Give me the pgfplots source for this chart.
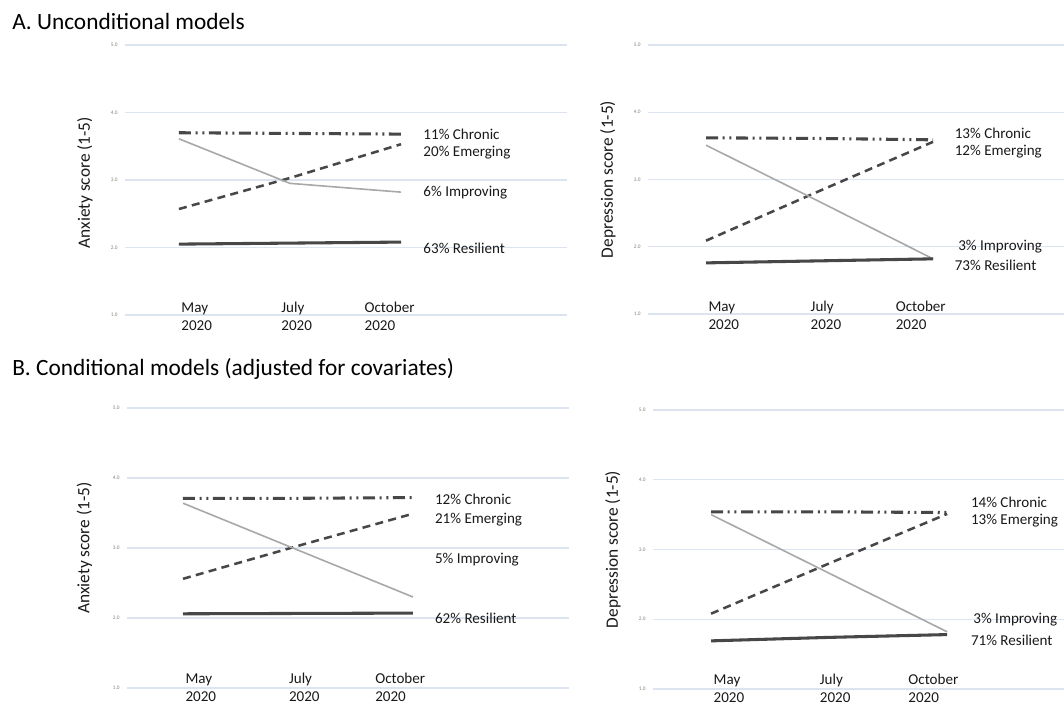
\documentclass[border=0pt]{standalone}
\usepackage{pgfplots}
\pgfplotsset{compat=1.18}
\usepackage{fontspec}
\setmainfont{Carlito}

\definecolor{gridblue}{HTML}{DCE3F1}
\definecolor{darkline}{HTML}{474747}
\definecolor{lightline}{HTML}{A8A8A8}

\pgfplotsset{
  panel/.style={
    scale only axis,
    anchor=north west,
    ymin=1, ymax=5,
    ytick={1,2,3,4,5},
    xtick=\empty,
    axis line style={draw=none},
    tick style={draw=none},
    ymajorgrids,
    grid style={gridblue, line width=0.9pt},
    clip=false,
    yticklabel style={font=\fontsize{4}{4}\selectfont, text=gray, xshift=-2pt,
      /pgf/number format/.cd, fixed, fixed zerofill, precision=1, assume math mode=true},
  },
}
\tikzset{
  chronic/.style={darkline, line width=2.3pt,
    dash pattern=on 9pt off 3.5pt on 1.5pt off 3.5pt on 1.5pt off 3.5pt},
  emerging/.style={darkline, line width=1.9pt, dash pattern=on 6pt off 4pt},
  improving/.style={lightline, line width=1.2pt},
  resilient/.style={darkline, line width=2.3pt},
  lab/.style={anchor=west, inner xsep=0pt, font=\fontsize{11.3}{13}\selectfont, text=black!90},
  month/.style={anchor=base west, inner xsep=0pt, inner ysep=1pt, font=\fontsize{11.3}{13.5}\selectfont, text=black!90},
  ylab/.style={rotate=90, anchor=center, font=\fontsize{13}{15}\selectfont, text=black!90},
}

% month labels, shared by the four panels; #1 = baseline of the first line
\newcommand{\months}[1]{%
  \node[month] at (axis cs:0.02,#1) {May};
  \node[month] at (axis cs:0.92,#1) {July};
  \node[month] at (axis cs:1.67,#1) {October};
  \node[month, yshift=-13.5pt] at (axis cs:0.02,#1) {2020};
  \node[month, yshift=-13.5pt] at (axis cs:0.92,#1) {2020};
  \node[month, yshift=-13.5pt] at (axis cs:1.67,#1) {2020};
}

\begin{document}
\begin{tikzpicture}
\path[use as bounding box] (0,0) rectangle (798pt,-528.75pt);

\node[anchor=base west, inner xsep=0pt, font=\fontsize{17.5}{20}\selectfont] at (9pt,-22.5pt) {A. Unconditional models};
\node[anchor=base west, inner xsep=0pt, font=\fontsize{17.5}{20}\selectfont] at (9pt,-282pt) {B. Conditional models (adjusted for covariates)};

% A, anxiety
\begin{axis}[panel, at={(93.75pt,-33.75pt)}, width=331.5pt, height=202.5pt,
  xmin=-0.486, xmax=3.495]
\addplot[chronic] coordinates {(0,3.70) (1,3.69) (2,3.68)};
\addplot[emerging] coordinates {(0,2.57) (1,3.03) (2,3.53)};
\addplot[improving] coordinates {(0,3.61) (1,2.95) (2,2.82)};
\addplot[resilient] coordinates {(0,2.05) (1,2.065) (2,2.08)};
\node[lab] at (axis cs:2.2,3.68) {11\% Chronic};
\node[lab] at (axis cs:2.2,3.40) {20\% Emerging};
\node[lab] at (axis cs:2.2,2.82) {6\% Improving};
\node[lab] at (axis cs:2.2,1.99) {63\% Resilient};
\months{1.03}
\node[ylab] at ([xshift=-30pt]rel axis cs:0,0.49) {Anxiety score (1-5)};
\end{axis}

% A, depression
\begin{axis}[panel, at={(486pt,-33.75pt)}, width=312pt, height=201.75pt,
  xmin=-0.511, xmax=3.154]
\addplot[chronic] coordinates {(0,3.62) (1,3.61) (2,3.59)};
\addplot[emerging] coordinates {(0,2.09) (1,2.83) (2,3.56)};
\addplot[improving] coordinates {(0,3.51) (1,2.67) (2,1.82)};
\addplot[resilient] coordinates {(0,1.76) (1,1.79) (2,1.82)};
\node[lab] at (axis cs:2.19,3.69) {13\% Chronic};
\node[lab] at (axis cs:2.19,3.41) {12\% Emerging};
\node[lab] at (axis cs:2.22,2.00) {3\% Improving};
\node[lab] at (axis cs:2.19,1.72) {73\% Resilient};
\months{1.03}
\node[ylab] at ([xshift=-30pt]rel axis cs:0,0.5) {Depression score (1-5)};
\end{axis}

% B, anxiety
\begin{axis}[panel, at={(95.25pt,-306pt)}, width=331.5pt, height=210pt,
  xmin=-0.487, xmax=3.357]
\addplot[chronic] coordinates {(0,3.71) (1,3.71) (2,3.72)};
\addplot[emerging] coordinates {(0,2.56) (1,3.03) (2,3.49)};
\addplot[improving] coordinates {(0,3.64) (1,2.97) (2,2.30)};
\addplot[resilient] coordinates {(0,2.06) (1,2.065) (2,2.07)};
\node[lab] at (axis cs:2.19,3.69) {12\% Chronic};
\node[lab] at (axis cs:2.19,3.41) {21\% Emerging};
\node[lab] at (axis cs:2.19,2.83) {5\% Improving};
\node[lab] at (axis cs:2.19,2.00) {62\% Resilient};
\months{1.07}
\node[ylab] at ([xshift=-32pt]rel axis cs:0,0.5) {Anxiety score (1-5)};
\end{axis}

% B, depression
\begin{axis}[panel, at={(489.75pt,-307.5pt)}, width=308.25pt, height=209.25pt,
  xmin=-0.492, xmax=2.99]
\addplot[chronic] coordinates {(0,3.54) (1,3.54) (2,3.53)};
\addplot[emerging] coordinates {(0,2.08) (1,2.80) (2,3.51)};
\addplot[improving] coordinates {(0,3.50) (1,2.66) (2,1.82)};
\addplot[resilient] coordinates {(0,1.69) (1,1.74) (2,1.78)};
\node[lab] at (axis cs:2.2,3.68) {14\% Chronic};
\node[lab] at (axis cs:2.2,3.41) {13\% Emerging};
\node[lab] at (axis cs:2.22,2.00) {3\% Improving};
\node[lab] at (axis cs:2.2,1.70) {71\% Resilient};
\months{1.07}
\node[ylab] at ([xshift=-30pt]rel axis cs:0,0.5) {Depression score (1-5)};
\end{axis}
\end{tikzpicture}
\end{document}
